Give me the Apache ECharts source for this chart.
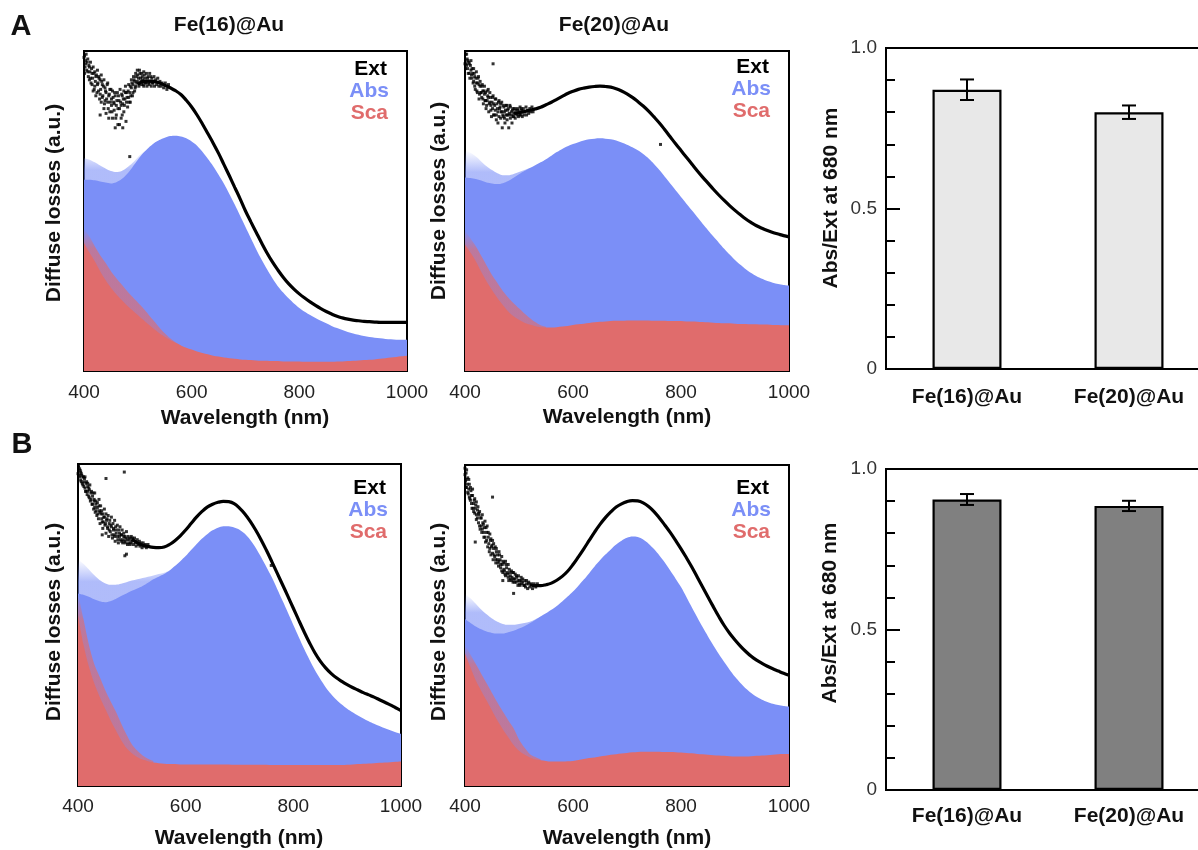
<!DOCTYPE html>
<html>
<head>
<meta charset="utf-8">
<title>Fe@Au diffuse losses</title>
<script src="https://cdn.jsdelivr.net/npm/echarts@6/dist/echarts.min.js"></script>
<style>
  html, body { margin: 0; padding: 0; background: #fff; }
  #chart { width: 1198px; height: 850px; }
</style>
</head>
<body>
<div id="chart"></div>
<script>
// ---- wavelength grid (nm) ----
const wavelengths = [400,410,420,430,440,450,460,470,480,490,500,510,520,530,540,550,560,570,580,590,
  600,610,620,630,640,650,660,670,680,690,700,710,720,730,740,750,760,770,780,790,
  800,810,820,830,840,850,860,870,880,890,900,910,920,930,940,950,960,970,980,990,1000];

// ---- A, Fe(16)@Au ----
const extA16 = [.96,.93,.91,.89,.87,.855,.845,.85,.86,.875,.895,.905,.906,.905,.90,.893,.885,.876,.864,.846,
  .825,.80,.772,.742,.712,.68,.645,.61,.574,.538,.50,.466,.433,.40,.369,.341,.316,.293,.273,.256,
  .241,.228,.216,.205,.195,.186,.178,.171,.166,.162,.159,.157,.155,.154,.153,.152,.152,.152,.152,.152,.152];
const absA16 = [.598,.598,.596,.592,.589,.586,.59,.60,.616,.637,.66,.681,.698,.712,.722,.729,.734,.735,.733,.727,
  .717,.704,.685,.663,.64,.613,.585,.553,.52,.485,.45,.415,.38,.348,.318,.29,.265,.245,.227,.211,
  .197,.185,.175,.166,.157,.149,.141,.134,.128,.122,.117,.113,.109,.106,.104,.102,.10,.099,.098,.098,.098];
const scaA16 = [.40,.37,.343,.312,.284,.26,.24,.222,.205,.19,.175,.16,.145,.131,.118,.107,.097,.088,.08,.073,
  .067,.061,.056,.052,.048,.045,.042,.04,.038,.036,.035,.034,.033,.032,.032,.031,.031,.03,.03,.03,
  .03,.029,.029,.029,.029,.029,.029,.03,.03,.031,.032,.033,.034,.035,.036,.038,.04,.042,.044,.046,.048];
const absHazeA16 = [[400,.665],[410,.66],[420,.652],[430,.642],[440,.633],[450,.625],[460,.622],[470,.625],[480,.636],[490,.65],[500,.668],[510,.684],[520,.698]];
const scaHazeA16 = [[400,.445],[410,.42],[420,.39],[430,.362],[440,.338],[450,.312],[460,.29],[470,.27],[480,.25],[490,.232],[500,.214],[510,.196],[520,.176],[530,.156],[540,.136],[550,.118],[560,.102],[570,.09],[580,.08]];
const extScatterA16 = [[401,.985],[402,.95],[403,.97],[405,.94],[406,.965],[408,.92],[409,.955],[411,.935],[413,.90],[414,.945],
  [416,.915],[418,.93],[419,.88],[421,.905],[423,.925],[424,.87],[426,.90],[428,.915],[429,.85],[430,.80],[431,.88],[433,.905],
  [435,.86],[436,.89],[438,.835],[440,.875],[442,.85],[443,.895],[445,.82],[446,.79],[447,.865],[449,.84],[450,.88],[452,.81],
  [454,.855],[456,.835],[457,.87],[458,.76],[459,.79],[461,.845],[463,.82],[464,.86],[466,.77],[468,.84],[470,.865],[471,.80],
  [472,.76],[473,.85],[475,.83],[477,.87],[478,.78],[480,.855],[482,.875],[484,.84],[485,.67],[486,.89],[487,.86],[489,.90],
  [491,.87],[493,.91],[495,.885],[497,.92],[498,.90],[500,.925],[502,.89],[504,.93],[506,.905],[508,.92],[510,.895],
  [512,.925],[515,.90],[518,.915],[521,.895],[524,.92],[527,.90],
  [400,.98],[401,.93],[403,.96],[404,.99],[407,.935],[407,.975],[410,.91],[410,.95],[412,.965],[412,.915],[415,.93],[415,.895],
  [417,.95],[417,.875],[420,.935],[420,.89],[422,.92],[422,.86],[425,.94],[425,.895],[427,.875],[427,.92],[430,.91],[430,.865],
  [432,.84],[432,.925],[434,.895],[434,.855],[437,.91],[437,.82],[439,.885],[439,.845],[441,.87],[441,.805],[444,.90],[444,.84],
  [446,.86],[448,.88],[448,.81],[451,.85],[451,.83],[453,.875],[453,.79],[455,.84],[456,.815],[458,.86],[460,.83],[460,.80],
  [462,.87],[463,.77],[465,.845],[466,.82],[467,.88],[469,.83],[469,.79],[471,.86],[472,.835],[474,.875],[474,.81],[476,.85],
  [477,.89],[479,.84],[479,.87],[481,.825],[483,.895],[483,.855],[485,.87],[486,.84],[488,.885],[488,.91],[490,.86],[491,.895],
  [492,.92],[494,.875],[494,.905],[496,.93],[496,.89],[499,.905],[499,.94],[501,.915],[503,.90],[503,.94],[505,.915],[507,.93],
  [507,.895],[509,.91],[511,.935],[511,.89],[513,.915],[514,.90],[516,.93],[517,.89],[519,.92],[520,.90],[522,.93],[523,.905],
  [525,.89],[526,.915],[528,.90],[530,.92],[531,.89],[533,.91],[535,.895],[537,.915],[539,.89],[541,.905],[543,.89],[545,.90],
  [548,.885],[551,.90],[554,.88],[557,.895]];

// ---- A, Fe(20)@Au ----
const extA20 = [.975,.95,.913,.887,.866,.845,.83,.819,.81,.806,.807,.811,.815,.819,.824,.832,.84,.849,.858,.867,
  .874,.88,.884,.887,.889,.89,.889,.887,.882,.875,.866,.855,.842,.828,.812,.794,.775,.754,.732,.71,
  .689,.668,.647,.626,.606,.587,.568,.55,.533,.517,.502,.488,.475,.464,.454,.446,.439,.433,.428,.423,.419];
const absA20 = [.605,.603,.60,.595,.589,.586,.584,.587,.594,.604,.615,.625,.634,.643,.652,.662,.673,.684,.694,.702,
  .709,.715,.72,.724,.726,.727,.726,.724,.72,.714,.707,.699,.69,.678,.664,.647,.628,.607,.586,.565,
  .544,.523,.502,.481,.46,.44,.42,.401,.382,.364,.347,.332,.318,.306,.296,.288,.281,.276,.272,.269,.267];
const scaA20 = [.395,.37,.343,.31,.28,.253,.228,.206,.186,.171,.16,.151,.145,.14,.137,.136,.136,.137,.139,.141,
  .144,.146,.148,.15,.152,.154,.155,.156,.157,.157,.158,.158,.158,.158,.158,.157,.157,.157,.156,.156,
  .156,.155,.155,.154,.153,.152,.151,.15,.149,.149,.148,.147,.147,.146,.146,.145,.145,.144,.144,.143,.143];
const absHazeA20 = [[400,.69],[410,.682],[420,.67],[430,.655],[440,.64],[450,.628],[460,.618],[470,.612],[480,.612],[490,.616],[500,.622],[510,.628],[520,.634]];
const scaHazeA20 = [[400,.44],[410,.415],[420,.39],[430,.36],[440,.33],[450,.30],[460,.275],[470,.25],[480,.23],[490,.212],[500,.196],[510,.18],[520,.166],[530,.153],[540,.143],[550,.138]];
const extScatterA20 = [[401,.99],[402,.96],[404,.975],[405,.945],[407,.965],[408,.93],[410,.955],[412,.925],[413,.945],[415,.90],
  [417,.93],[418,.89],[420,.915],[422,.875],[423,.90],[425,.92],[427,.865],[428,.89],[430,.87],[432,.895],[433,.85],[435,.875],
  [437,.845],[438,.87],[440,.83],[442,.86],[443,.88],[445,.835],[447,.855],[448,.815],[450,.84],[452,.96],[452,.86],[453,.80],
  [455,.83],[457,.85],[458,.785],[460,.82],[462,.84],[463,.795],[465,.825],[467,.81],[468,.84],[470,.80],[472,.825],[473,.79],
  [475,.815],[477,.83],[478,.80],[480,.82],[482,.805],[484,.825],[486,.80],[488,.815],[490,.795],[492,.82],[495,.805],
  [498,.815],[501,.80],[504,.82],[507,.81],[762,.708],
  [400,.96],[401,.945],[403,.99],[403,.955],[405,.97],[406,.93],[408,.96],[409,.915],[411,.94],[411,.97],[413,.915],[414,.93],
  [416,.905],[416,.945],[418,.92],[419,.88],[421,.90],[421,.935],[423,.87],[424,.915],[426,.895],[426,.85],[428,.905],[429,.87],
  [431,.855],[431,.89],[433,.875],[434,.835],[436,.865],[436,.89],[438,.845],[439,.82],[441,.875],[441,.845],[443,.855],[444,.81],
  [446,.84],[446,.87],[448,.83],[449,.795],[451,.855],[451,.82],[453,.835],[454,.80],[456,.815],[456,.85],[458,.80],[459,.835],
  [461,.81],[461,.775],[463,.845],[464,.82],[466,.79],[466,.835],[468,.81],[469,.76],[471,.83],[471,.795],[473,.81],[474,.775],
  [476,.80],[476,.83],[478,.785],[479,.815],[481,.76],[481,.80],[483,.83],[484,.79],[486,.81],[487,.775],[489,.82],[489,.795],
  [491,.805],[493,.79],[494,.815],[496,.80],[497,.82],[499,.795],[500,.81],[502,.825],[503,.80],[505,.815],[506,.795],[508,.82],
  [509,.80],[511,.81],[513,.825],[514,.80],[516,.815],[518,.805],[520,.82],[522,.81],[524,.825],[526,.81]];

// ---- B, Fe(16)@Au ----
const extB16 = [.984,.953,.927,.90,.875,.849,.829,.813,.795,.779,.766,.756,.748,.744,.741,.74,.742,.75,.762,.777,
  .795,.815,.835,.852,.866,.875,.881,.884,.883,.877,.863,.845,.822,.795,.765,.732,.697,.661,.625,.589,
  .552,.515,.479,.445,.414,.388,.367,.35,.336,.325,.315,.306,.298,.29,.283,.276,.268,.26,.252,.243,.234];
const absB16 = [.598,.594,.588,.58,.574,.571,.574,.581,.59,.598,.606,.613,.621,.631,.642,.65,.658,.669,.683,.698,
  .714,.733,.751,.768,.782,.794,.802,.807,.807,.803,.796,.783,.764,.74,.711,.68,.648,.612,.575,.538,
  .50,.463,.426,.392,.36,.332,.307,.286,.268,.253,.24,.229,.219,.21,.201,.193,.186,.179,.173,.167,.162];
const scaB16 = [.53,.44,.372,.32,.278,.242,.206,.174,.143,.118,.102,.09,.082,.077,.073,.071,.069,.068,.068,.067,
  .067,.067,.067,.067,.067,.067,.067,.067,.067,.066,.066,.066,.066,.066,.066,.066,.065,.065,.065,.065,
  .065,.065,.065,.065,.065,.065,.065,.065,.065,.065,.066,.067,.068,.069,.07,.071,.072,.073,.074,.075,.076];
const absHazeB16 = [[400,.705],[410,.69],[420,.673],[430,.655],[440,.64],[450,.63],[460,.625],[470,.625],[480,.628],[490,.633],[500,.638],[510,.642],[520,.646],[530,.65],[540,.654],[550,.658],[560,.662],[570,.669]];
const scaHazeB16 = [[400,.60],[410,.52],[420,.44],[430,.38],[440,.34],[450,.30],[460,.265],[470,.232],[480,.195],[490,.16],[500,.13],[510,.11],[520,.095],[530,.085],[540,.078]];
const extScatterB16 = [[401,.99],[402,.965],[404,.98],[405,.95],[406,.97],[408,.94],[409,.96],[411,.93],[412,.955],[414,.915],
  [415,.94],[417,.905],[418,.93],[420,.90],[421,.92],[423,.885],[424,.91],[426,.875],[427,.90],[429,.86],[430,.885],[432,.85],
  [433,.875],[435,.84],[436,.865],[438,.83],[440,.855],[441,.815],[443,.845],[445,.82],[445,.78],[446,.80],[448,.835],[450,.81],
  [452,.955],[452,.785],[453,.825],[455,.80],[457,.775],[458,.815],[460,.79],[462,.805],[464,.77],[466,.80],[467,.78],[469,.76],
  [471,.795],[473,.775],[475,.755],[477,.785],[479,.765],[481,.78],[483,.755],[485,.775],[486,.975],[487,.715],[487,.76],
  [489,.77],[490,.72],[492,.75],[495,.765],[498,.755],[501,.77],[759,.685],
  [400,.97],[401,.995],[403,.96],[403,.985],[405,.975],[406,.945],[407,.965],[409,.935],[410,.96],[411,.945],[413,.925],[413,.96],
  [415,.915],[416,.945],[418,.915],[418,.94],[420,.925],[421,.895],[422,.935],[424,.89],[425,.915],[427,.875],[428,.91],[430,.89],
  [431,.865],[431,.91],[433,.885],[434,.855],[436,.88],[437,.845],[439,.87],[439,.89],[441,.85],[442,.87],[444,.83],[444,.855],
  [446,.845],[447,.82],[449,.86],[449,.835],[451,.815],[452,.845],[454,.83],[455,.805],[456,.84],[458,.795],[459,.825],[461,.81],
  [462,.835],[463,.78],[465,.815],[466,.795],[468,.825],[468,.775],[470,.805],[471,.785],[473,.81],[474,.765],[476,.795],[477,.775],
  [478,.805],[480,.78],[481,.76],[482,.795],[484,.765],[485,.785],[487,.775],[488,.755],[490,.79],[491,.765],[493,.775],[494,.755],
  [496,.77],[497,.75],[499,.775],[500,.76],[502,.765],[503,.75],[505,.77],[507,.755],[508,.745],[510,.765],[512,.75],[514,.76],
  [515,.745],[517,.755],[519,.74],[521,.755],[523,.745],[525,.75],[527,.74],[530,.75]];

// ---- B, Fe(20)@Au ----
const extB20 = [.956,.909,.867,.831,.794,.763,.731,.705,.679,.658,.645,.634,.627,.624,.624,.627,.632,.641,.653,.669,
  .69,.714,.739,.765,.791,.815,.836,.854,.869,.879,.886,.889,.888,.882,.871,.855,.835,.813,.79,.765,
  .739,.711,.682,.651,.62,.589,.558,.528,.50,.476,.455,.436,.419,.404,.392,.382,.373,.365,.358,.351,.345];
const absB20 = [.52,.508,.497,.488,.481,.477,.475,.475,.479,.484,.491,.498,.507,.517,.528,.538,.549,.561,.575,.59,
  .606,.624,.643,.663,.684,.703,.721,.737,.752,.764,.773,.777,.776,.768,.755,.738,.718,.696,.671,.646,
  .62,.589,.557,.526,.495,.466,.438,.411,.386,.362,.34,.321,.304,.29,.278,.269,.262,.256,.252,.249,.247];
const scaB20 = [.413,.37,.329,.297,.266,.235,.204,.177,.152,.128,.11,.098,.089,.083,.08,.078,.076,.076,.076,.077,
  .078,.081,.084,.087,.089,.092,.094,.097,.099,.101,.103,.105,.106,.107,.107,.107,.107,.106,.106,.105,
  .104,.103,.102,.10,.099,.097,.096,.095,.094,.093,.092,.092,.092,.093,.094,.095,.096,.097,.099,.10,.10];
const absHazeB20 = [[400,.60],[410,.585],[420,.568],[430,.55],[440,.535],[450,.522],[460,.512],[470,.505],[480,.502],[490,.502],[500,.505],[510,.508],[520,.512],[530,.519],[540,.528]];
const scaHazeB20 = [[400,.44],[410,.41],[420,.38],[430,.35],[440,.32],[450,.29],[460,.26],[470,.232],[480,.205],[490,.18],[500,.145],[510,.12],[520,.10],[530,.09],[540,.083]];
const extScatterB20 = [[400,.99],[401,.95],[402,.975],[403,.93],[405,.96],[406,.91],[408,.94],[409,.895],[411,.92],[412,.88],
  [414,.905],[415,.865],[417,.89],[418,.85],[419,.76],[420,.875],[421,.83],[423,.86],[425,.82],[426,.845],[428,.80],[430,.835],
  [431,.79],[433,.82],[435,.775],[436,.805],[438,.76],[440,.79],[442,.745],[443,.775],[445,.73],[447,.765],[448,.72],[450,.75],
  [451,.90],[452,.705],[453,.74],[455,.715],[457,.695],[458,.73],[460,.705],[462,.685],[464,.72],[466,.69],[468,.67],[470,.70],
  [470,.64],[472,.675],[474,.66],[476,.69],[478,.665],[480,.65],[482,.675],[484,.655],[486,.64],[488,.665],[490,.645],
  [490,.60],[492,.635],[495,.655],[498,.64],[501,.63],[504,.65],[507,.635],[510,.625],[514,.64],[518,.63],
  [400,.97],[401,.93],[402,.955],[403,.985],[404,.94],[405,.915],[407,.955],[407,.925],[408,.90],[410,.93],[410,.89],[412,.905],
  [413,.865],[414,.925],[416,.88],[416,.855],[418,.895],[419,.865],[421,.845],[421,.885],[423,.835],[424,.87],[425,.85],[427,.81],
  [427,.855],[429,.835],[430,.81],[432,.845],[432,.80],[434,.815],[435,.79],[437,.825],[437,.775],[439,.805],[440,.765],[441,.81],
  [443,.79],[444,.755],[446,.785],[446,.74],[448,.77],[449,.745],[451,.765],[451,.725],[453,.755],[454,.72],[456,.745],[457,.705],
  [458,.74],[460,.72],[461,.695],[463,.73],[463,.70],[465,.705],[466,.68],[468,.715],[469,.69],[470,.665],[472,.695],[473,.67],
  [475,.70],[475,.655],[477,.68],[479,.66],[480,.69],[481,.64],[483,.665],[484,.645],[486,.67],[487,.65],[489,.635],[490,.665],
  [492,.645],[493,.66],[495,.635],[496,.65],[498,.625],[499,.655],[501,.64],[502,.625],[504,.64],[505,.63],[507,.645],[509,.625],
  [511,.64],[512,.62],[514,.63],[516,.615],[518,.635],[520,.62],[523,.63],[525,.615],[528,.63],[531,.62],[534,.63]];

// ---- bar panels: Abs/Ext ratio at 680 nm ----
const barCategories = ['Fe(16)@Au', 'Fe(20)@Au'];
const ratioA = [0.87, 0.80];
const ratioErrA = [0.032, 0.021];
const ratioB = [0.905, 0.885];
const ratioErrB = [0.017, 0.016];

const BLUE = '#7b8ff7';
const RED = '#e06c6c';
const FONT = '"Liberation Sans", Arial, Helvetica, sans-serif';

// soft upper edge of the noisy short-wavelength region
const fade = (rgb, a, stop) => new echarts.graphic.LinearGradient(0, 0, 0, 1, [
  { offset: 0, color: 'rgba(' + rgb + ',0)' },
  { offset: stop, color: 'rgba(' + rgb + ',' + a + ')' },
  { offset: 1, color: 'rgba(' + rgb + ',' + a + ')' }
]);

// spectra panels: grid rect + data + where the dense Ext curve begins
const spectra = [
  { rect: [84, 51, 323, 320], ext: extA16, abs: absA16, sca: scaA16, absHaze: absHazeA16, scaHaze: scaHazeA16, pts: extScatterA16, lineFrom: 500, margin: 12 },
  { rect: [465, 51, 324, 320], ext: extA20, abs: absA20, sca: scaA20, absHaze: absHazeA20, scaHaze: scaHazeA20, pts: extScatterA20, lineFrom: 490, margin: 12 },
  { rect: [78, 464, 323, 322], ext: extB16, abs: absB16, sca: scaB16, absHaze: absHazeB16, scaHaze: scaHazeB16, pts: extScatterB16, lineFrom: 500, margin: 11 },
  { rect: [465, 465, 324, 321], ext: extB20, abs: absB20, sca: scaB20, absHaze: absHazeB20, scaHaze: scaHazeB20, pts: extScatterB20, lineFrom: 520, margin: 11 }
];
const bars = [
  { rect: [886, 48, 324, 321], vals: ratioA, errs: ratioErrA, color: '#e8e8e8', margin: 18 },
  { rect: [886, 469, 324, 321], vals: ratioB, errs: ratioErrB, color: '#808080', margin: 16 }
];

const pair = (ys, from) => wavelengths.map((w, i) => [w, ys[i]]).filter(p => p[0] >= (from || 0));

const grid = [], xAxis = [], yAxis = [], series = [];

spectra.forEach((p, k) => {
  grid.push({ left: p.rect[0], top: p.rect[1], width: p.rect[2], height: p.rect[3],
    show: true, borderColor: '#000', borderWidth: 2, backgroundColor: 'transparent',
    containLabel: false, outerBoundsMode: 'none' });
  xAxis.push({ type: 'value', gridIndex: k, min: 400, max: 1000, interval: 200,
    axisLine: { show: false },
    axisTick: { show: true, inside: true, length: 14, lineStyle: { color: '#000', width: 2 } },
    minorTick: { show: true, splitNumber: 2, length: 7, lineStyle: { color: '#000', width: 2 } },
    splitLine: { show: false }, minorSplitLine: { show: false },
    axisLabel: { show: true, margin: p.margin, color: '#222', fontSize: 19, fontFamily: FONT,
      formatter: v => String(v), showMinLabel: true, showMaxLabel: true, hideOverlap: false } });
  yAxis.push({ type: 'value', gridIndex: k, min: 0, max: 1, show: false, splitLine: { show: false } });

  const base = { xAxisIndex: k, yAxisIndex: k, symbol: 'none', silent: true, animation: false };
  series.push(Object.assign({ type: 'line', data: p.absHaze, smooth: 0.3, z: 1,
    lineStyle: { width: 0 }, areaStyle: { color: fade('123,143,247', 0.6, 0.1), opacity: 1 } }, base));
  series.push(Object.assign({ type: 'line', data: pair(p.abs), smooth: 0.3, z: 2,
    lineStyle: { width: 0 }, areaStyle: { color: BLUE, opacity: 1 } }, base));
  series.push(Object.assign({ type: 'line', data: p.scaHaze, smooth: 0.3, z: 3,
    lineStyle: { width: 0 }, areaStyle: { color: fade('224,108,108', 0.65, 0.14), opacity: 1 } }, base));
  series.push(Object.assign({ type: 'line', data: pair(p.sca), smooth: 0.3, z: 4,
    lineStyle: { width: 0 }, areaStyle: { color: RED, opacity: 1 } }, base));
  series.push(Object.assign({ type: 'line', data: pair(p.ext, p.lineFrom), smooth: 0.4, z: 5,
    lineStyle: { width: 3.2, color: '#000' } }, base));
  series.push({ type: 'scatter', xAxisIndex: k, yAxisIndex: k, data: p.pts, symbol: 'rect',
    symbolSize: 3, itemStyle: { color: '#000' }, z: 6, silent: true, animation: false });
});

bars.forEach((b, j) => {
  const k = spectra.length + j;
  grid.push({ left: b.rect[0], top: b.rect[1], width: b.rect[2], height: b.rect[3],
    show: true, borderColor: '#000', borderWidth: 2, backgroundColor: 'transparent',
    containLabel: false, outerBoundsMode: 'none' });
  xAxis.push({ type: 'category', gridIndex: k, data: barCategories,
    axisLine: { show: false }, axisTick: { show: false },
    axisLabel: { margin: b.margin, color: '#111', fontSize: 21, fontWeight: 'bold', fontFamily: FONT } });
  yAxis.push({ type: 'value', gridIndex: k, min: 0, max: 1, interval: 0.5,
    axisLine: { show: false },
    axisTick: { show: true, inside: true, length: 14, lineStyle: { color: '#000', width: 2 } },
    minorTick: { show: true, splitNumber: 5, length: 9, lineStyle: { color: '#000', width: 2 } },
    splitLine: { show: false },
    axisLabel: { margin: 9, color: '#333', fontSize: 19, fontFamily: FONT,
      formatter: v => (v === 0 ? '0' : v.toFixed(1)) } });
  series.push({ type: 'bar', xAxisIndex: k, yAxisIndex: k, data: b.vals, barWidth: 69,
    itemStyle: { color: b.color, borderColor: '#000', borderWidth: 2.2 }, z: 2, silent: true, animation: false });
  series.push({ type: 'custom', xAxisIndex: k, yAxisIndex: k, z: 3, silent: true, animation: false,
    data: b.vals.map((v, i) => [i, v - b.errs[i], v + b.errs[i]]),
    renderItem: (params, api) => {
      const lo = api.coord([api.value(0), api.value(1)]);
      const hi = api.coord([api.value(0), api.value(2)]);
      const hw = 7, st = { stroke: '#000', lineWidth: 2 };
      return { type: 'group', children: [
        { type: 'line', shape: { x1: lo[0], y1: lo[1], x2: hi[0], y2: hi[1] }, style: st },
        { type: 'line', shape: { x1: lo[0] - hw, y1: lo[1], x2: lo[0] + hw, y2: lo[1] }, style: st },
        { type: 'line', shape: { x1: hi[0] - hw, y1: hi[1], x2: hi[0] + hw, y2: hi[1] }, style: st }
      ] };
    } });
});

// text labels
const txt = (x, y, s, o) => Object.assign({ type: 'text', x: x, y: y, silent: true,
  style: Object.assign({ text: s, fontFamily: FONT, fontSize: 21, fontWeight: 'bold', fill: '#111',
    textAlign: 'center', textVerticalAlign: 'middle' }, o || {}) });
const vtxt = (x, y, s) => ({ type: 'text', x: x, y: y, rotation: Math.PI / 2, silent: true,
  style: { text: s, fontFamily: FONT, fontSize: 21, fontWeight: 'bold', fill: '#111',
    textAlign: 'center', textVerticalAlign: 'middle' } });
const legend = (xr, y0) => [
  txt(xr, y0, 'Ext', { textAlign: 'right', fill: '#000' }),
  txt(xr + 2, y0 + 22, 'Abs', { textAlign: 'right', fill: BLUE }),
  txt(xr + 1, y0 + 44, 'Sca', { textAlign: 'right', fill: RED })
];
const graphic = [
  txt(21, 27, 'A', { fontSize: 29 }),
  txt(22, 445, 'B', { fontSize: 29 }),
  txt(229, 25, 'Fe(16)@Au'),
  txt(614, 25, 'Fe(20)@Au'),
  txt(245, 418, 'Wavelength (nm)'),
  txt(627, 417, 'Wavelength (nm)'),
  txt(239, 838, 'Wavelength (nm)'),
  txt(627, 838, 'Wavelength (nm)'),
  vtxt(54, 203, 'Diffuse losses (a.u.)'),
  vtxt(439, 201, 'Diffuse losses (a.u.)'),
  vtxt(54, 622, 'Diffuse losses (a.u.)'),
  vtxt(439, 622, 'Diffuse losses (a.u.)'),
  vtxt(831, 198, 'Abs/Ext at 680 nm'),
  vtxt(830, 613, 'Abs/Ext at 680 nm')
].concat(legend(387, 69), legend(769, 67), legend(386, 488), legend(769, 488));

const chart = echarts.init(document.getElementById('chart'), null, { renderer: 'canvas' });
chart.setOption({
  backgroundColor: '#fff',
  animation: false,
  grid: grid,
  xAxis: xAxis,
  yAxis: yAxis,
  series: series,
  graphic: { elements: graphic }
});
</script>
</body>
</html>
